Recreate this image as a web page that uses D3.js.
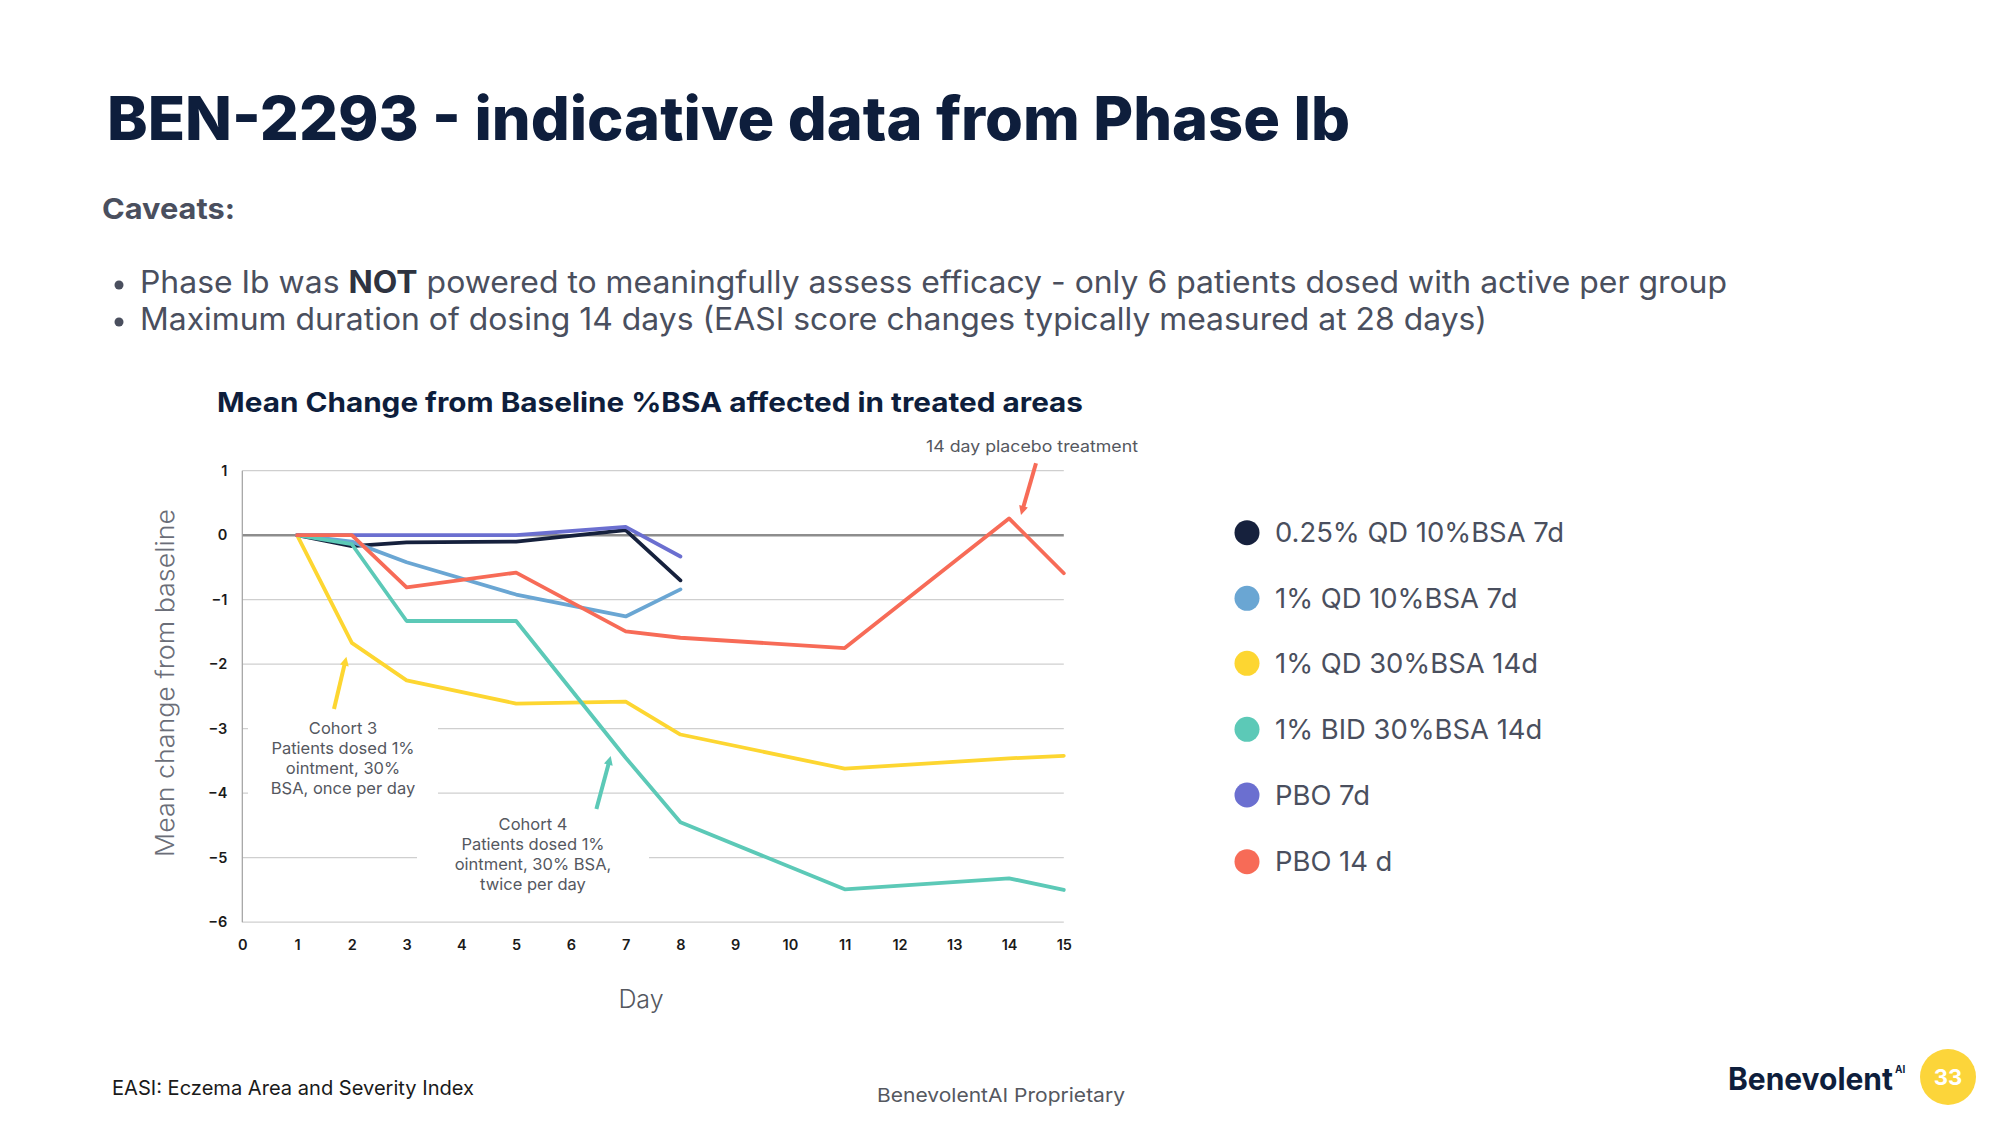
<!DOCTYPE html>
<html>
<head>
<meta charset="utf-8">
<script src="https://cdn.jsdelivr.net/npm/d3@7"></script>
<style>
  html, body { margin: 0; padding: 0; background: #ffffff; }
  svg { display: block; }
  text { font-family: Inter, "Noto Sans", "Open Sans", sans-serif; }
</style>
</head>
<body>
<svg id="chart" width="2000" height="1125"></svg>
<script>
// ---------------- data ----------------
const days14 = [1, 2, 3, 5, 7, 8, 11, 14, 15];
const days7 = [1, 2, 3, 5, 7, 8];

const seriesNames = ["0.25% QD 10%BSA 7d", "1% QD 10%BSA 7d", "1% QD 30%BSA 14d", "1% BID 30%BSA 14d", "PBO 7d", "PBO 14 d"];
const seriesColors = ["#16213d", "#6aa6d3", "#fdd631", "#5cc9b7", "#6b6fd0", "#f76b57"];

const qd025_10_7d = [0, -0.17, -0.11, -0.1, 0.08, -0.7];
const qd1_10_7d = [0, -0.1, -0.42, -0.92, -1.26, -0.84];
const qd1_30_14d = [0, -1.67, -2.25, -2.61, -2.58, -3.09, -3.62, -3.46, -3.42];
const bid1_30_14d = [0, -0.14, -1.33, -1.33, -3.45, -4.45, -5.49, -5.32, -5.5];
const pbo_7d = [0, 0, 0, 0, 0.13, -0.33];
const pbo_14d = [0, 0, -0.81, -0.58, -1.49, -1.59, -1.75, 0.26, -0.59];

const xTicks = [0, 1, 2, 3, 4, 5, 6, 7, 8, 9, 10, 11, 12, 13, 14, 15];
const yTicks = [1, 0, -1, -2, -3, -4, -5, -6];

const bullets = [
  [["Phase Ib was ", 400], ["NOT", 700], [" powered to meaningfully assess efficacy - only 6 patients dosed with active per group", 400]],
  [["Maximum duration of dosing 14 days (EASI score changes typically measured at 28 days)", 400]]
];
const cohort3Lines = ["Cohort 3", "Patients dosed 1%", "ointment, 30%", "BSA, once per day"];
const cohort4Lines = ["Cohort 4", "Patients dosed 1%", "ointment, 30% BSA,", "twice per day"];

// ---------------- build ----------------
const seriesData = [
  { days: days7, vals: qd025_10_7d },
  { days: days7, vals: qd1_10_7d },
  { days: days14, vals: qd1_30_14d },
  { days: days14, vals: bid1_30_14d },
  { days: days7, vals: pbo_7d },
  { days: days14, vals: pbo_14d }
].map((s, i) => ({ name: seriesNames[i], color: seriesColors[i], pts: s.days.map((d, j) => ({ x: d, y: s.vals[j] })) }));

const svg = d3.select("#chart");
const navy = "#0e1e3c";
const gray = "#4a4f5e";

function fitText(sel, w) { sel.attr("textLength", w).attr("lengthAdjust", "spacingAndGlyphs"); }

// Title
svg.append("text").attr("x", 107).attr("y", 140).attr("font-size", 60).attr("font-weight", 800)
  .attr("fill", navy).text("BEN-2293 - indicative data from Phase Ib").call(fitText, 1243);

svg.append("text").attr("x", 102).attr("y", 219).attr("font-size", 29).attr("font-weight", 700)
  .attr("fill", gray).text("Caveats:").call(fitText, 133);

const bulletY = [293, 330];
const bulletW = [1587, 1347];
bullets.forEach((parts, i) => {
  svg.append("circle").attr("cx", 119).attr("cy", bulletY[i] - 8).attr("r", 4.5).attr("fill", gray);
  const t = svg.append("text").attr("x", 140).attr("y", bulletY[i]).attr("font-size", 31).attr("fill", gray);
  parts.forEach(p => t.append("tspan").attr("font-weight", p[1]).attr("fill", p[1] > 500 ? "#2e3340" : gray).text(p[0]));
  fitText(t, bulletW[i]);
});

// Chart title
svg.append("text").attr("x", 217).attr("y", 412).attr("font-size", 27).attr("font-weight", 700)
  .attr("fill", navy).text("Mean Change from Baseline %BSA affected in treated areas").call(fitText, 866);

// Scales
const x = d3.scaleLinear().domain([0, 15]).range([242.3, 1063.8]);
const y = d3.scaleLinear().domain([-6, 1]).range([922.2, 470.7]);

// Gridlines
const grid = svg.append("g");
grid.selectAll("line").data(yTicks.filter(v => v !== 0)).join("line")
  .attr("x1", x(0)).attr("x2", x(15)).attr("y1", d => y(d)).attr("y2", d => y(d))
  .attr("stroke", "#cfcfcf").attr("stroke-width", 1.3);

// Annotation background boxes (they hide gridlines)
svg.append("rect").attr("x", 248).attr("y", 716).attr("width", 190).attr("height", 86).attr("fill", "#fff");
svg.append("rect").attr("x", 417).attr("y", 812).attr("width", 232).attr("height", 86).attr("fill", "#fff");

// Zero line
svg.append("line").attr("x1", x(0)).attr("x2", x(15)).attr("y1", y(0)).attr("y2", y(0))
  .attr("stroke", "#8d8d8d").attr("stroke-width", 2.4);

// Y axis line
svg.append("line").attr("x1", x(0)).attr("x2", x(0)).attr("y1", y(1)).attr("y2", y(-6))
  .attr("stroke", "#a0a0a0").attr("stroke-width", 1.2);

// Y axis
const yAxis = d3.axisLeft(y).tickValues(yTicks).tickSize(0).tickPadding(15).tickFormat(d3.format("d"));
const gy = svg.append("g").attr("transform", `translate(${x(0)},0)`).call(yAxis);
gy.select(".domain").remove();
gy.selectAll("text").attr("font-family", "'Open Sans', sans-serif").attr("font-size", 14.5)
  .attr("font-weight", 600).attr("fill", "#1a1a1a");

// X axis
const xAxis = d3.axisBottom(x).tickValues(xTicks).tickSize(0).tickPadding(18).tickFormat(d3.format("d"));
const gx = svg.append("g").attr("transform", `translate(0,${y(-6)})`).call(xAxis);
gx.select(".domain").remove();
gx.selectAll("text").attr("font-family", "'Open Sans', sans-serif").attr("font-size", 14.5)
  .attr("font-weight", 600).attr("fill", "#1a1a1a");

// Axis titles
svg.append("text").attr("transform", `translate(174,683) rotate(-90)`)
  .attr("text-anchor", "middle").attr("font-size", 25).attr("font-weight", 300).attr("fill", "#6b6e78")
  .text("Mean change from baseline").call(fitText, 348);
svg.append("text").attr("x", 641).attr("y", 1008).attr("text-anchor", "middle").attr("font-size", 25)
  .attr("font-weight", 300).attr("fill", "#55585f").text("Day");

// Lines
const line = d3.line().x(d => x(d.x)).y(d => y(d.y));
svg.append("g").selectAll("path").data(seriesData).join("path")
  .attr("d", d => line(d.pts)).attr("fill", "none").attr("stroke", d => d.color)
  .attr("stroke-width", 3.8).attr("stroke-linejoin", "round").attr("stroke-linecap", "round");

// Arrows
function arrow(x1, y1, x2, y2, color) {
  const ang = Math.atan2(y2 - y1, x2 - x1);
  svg.append("line").attr("x1", x1).attr("y1", y1).attr("x2", x2 - 5 * Math.cos(ang)).attr("y2", y2 - 5 * Math.sin(ang))
    .attr("stroke", color).attr("stroke-width", 4);
  const L = 9, W = 4.5;
  const bx = x2 - L * Math.cos(ang), by = y2 - L * Math.sin(ang);
  const px = -Math.sin(ang) * W, py = Math.cos(ang) * W;
  svg.append("path").attr("d", `M${x2},${y2}L${bx + px},${by + py}L${bx - px},${by - py}Z`).attr("fill", color);
}
arrow(334, 709, 346.4, 656.7, seriesColors[2]);
arrow(596.4, 809, 610.7, 756, seriesColors[3]);
arrow(1036, 463.3, 1021, 515, seriesColors[5]);

// Annotations
function multiline(lines, cx, y0, dy) {
  const t = svg.append("text").attr("text-anchor", "middle").attr("font-size", 16.5).attr("fill", "#55585f");
  lines.forEach((s, i) => t.append("tspan").attr("x", cx).attr("y", y0 + i * dy).text(s));
}
multiline(cohort3Lines, 343, 734, 20);
multiline(cohort4Lines, 533, 830, 20);
svg.append("text").attr("x", 926).attr("y", 451.5).attr("font-size", 16.5).attr("fill", "#55585f")
  .text("14 day placebo treatment").call(fitText, 212);

// Legend
const legendY = [532.7, 598.3, 663.3, 729.3, 795, 861.7];
const lg = svg.append("g");
seriesData.forEach((s, i) => {
  lg.append("circle").attr("cx", 1247).attr("cy", legendY[i]).attr("r", 12.5).attr("fill", s.color);
  lg.append("text").attr("x", 1275).attr("y", legendY[i] + 9.5).attr("font-size", 27.4)
    .attr("fill", gray).text(s.name);
});

// Footer
svg.append("text").attr("x", 112).attr("y", 1095).attr("font-size", 20).attr("fill", "#1a1a1a")
  .text("EASI: Eczema Area and Severity Index").call(fitText, 362);
svg.append("text").attr("x", 877).attr("y", 1102).attr("font-size", 19).attr("fill", "#55585f")
  .text("BenevolentAI Proprietary").call(fitText, 248);
svg.append("text").attr("x", 1728).attr("y", 1090).attr("font-size", 31).attr("font-weight", 700)
  .attr("fill", navy).text("Benevolent").call(fitText, 165);
svg.append("text").attr("x", 1895).attr("y", 1073).attr("font-size", 10).attr("font-weight", 700)
  .attr("fill", navy).text("AI");
svg.append("circle").attr("cx", 1948).attr("cy", 1077).attr("r", 28).attr("fill", "#fcd53a");
svg.append("text").attr("x", 1948).attr("y", 1085).attr("text-anchor", "middle").attr("font-size", 22)
  .attr("font-weight", 700).attr("fill", "#ffffff").text("33");
</script>
</body>
</html>
